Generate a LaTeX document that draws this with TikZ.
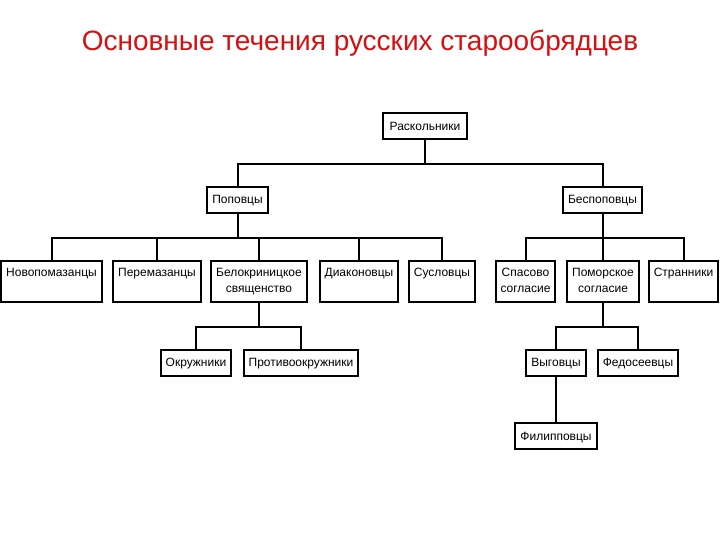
\documentclass[tikz,border=0pt]{standalone}
\usepackage{fontspec}
\setmainfont{Liberation Sans}
\usetikzlibrary{calc}
\definecolor{TitleClr}{RGB}{214,16,16}
\definecolor{BoxClr}{RGB}{0,0,0}

\begin{document}
\begin{tikzpicture}[x=1pt,y=-1pt,
  basebox/.style={draw=BoxClr,line width=2pt,fill=white,font=\fontsize{12}{16}\selectfont,
    inner xsep=5pt,align=center},
  box/.style={basebox,inner ysep=3pt,minimum height=26pt,text height=8pt,text depth=0pt},
  tallbox/.style={basebox,inner ysep=4.5pt,minimum height=41pt},
  link/.style={line width=2pt,color=BoxClr}]
\useasboundingbox (0,0) rectangle (720,540);

\node[TitleClr,font=\fontsize{28}{32}\selectfont] (title) at (360,43) {Основные течения русских старообрядцев};

% top levels
\node[box,inner xsep=7pt] (rask) at (425,126.5) {Раскольники};
\node[box] (pop) at (237.5,200) {Поповцы};
\node[box] (besp) at (602.5,200) {Беспоповцы};

% popovtsy
\node[tallbox] (novo) at (51.5,281.5) {\strut Новопомазанцы\\\strut};
\node[tallbox] (pere) at (157,281.5) {\strut Перемазанцы\\\strut};
\node[tallbox] (belo) at (259,281.5) {\strut Белокриницкое\\\strut священство};
\node[tallbox] (diak) at (359,281.5) {\strut Диаконовцы\\\strut};
\node[tallbox] (susl) at (442,281.5) {\strut Сусловцы\\\strut};

% bespopovtsy
\node[tallbox] (spas) at (525.5,281.5) {\strut Спасово\\\strut согласие};
\node[tallbox] (pomor) at (603,281.5) {\strut Поморское\\\strut согласие};
\node[tallbox] (stran) at (683.5,281.5) {\strut Странники\\\strut};

\node[box] (okr) at (196,362.5) {Окружники};
\node[box] (protiv) at (301,362.5) {Противоокружники};
\node[box] (vyg) at (556,362.5) {Выговцы};
\node[box] (fedos) at (638,362.5) {Федосеевцы};
\node[box] (filip) at (556,436) {Филипповцы};

\foreach \child in {pop,besp}
  \draw[link] (rask.south) -- ++(0,24) -| (\child.north);
\foreach \child in {novo,pere,belo,diak,susl}
  \draw[link] (pop.south) -- ++(0,24) -| (\child.north);
\foreach \child in {spas,pomor,stran}
  \draw[link] (besp.south) -- ++(0,24) -| (\child.north);
\foreach \child in {okr,protiv}
  \draw[link] (belo.south) -- ++(0,24) -| (\child.north);
\foreach \child in {vyg,fedos}
  \draw[link] (pomor.south) -- ++(0,24) -| (\child.north);
\draw[link] (vyg.south) -- (filip.north);

\end{tikzpicture}
\end{document}
